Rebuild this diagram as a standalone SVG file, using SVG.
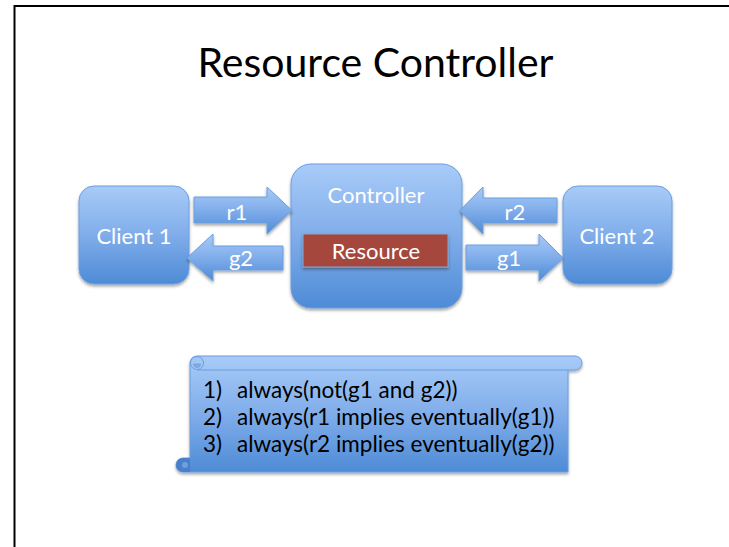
<svg xmlns="http://www.w3.org/2000/svg" width="729" height="547" viewBox="0 0 729 547">
  <style>
    .node { fill: url(#blue); stroke: #6b9ee0; stroke-width: 1; filter: url(#shadow); }
    .arrow { fill: url(#blue); stroke: #6b9ee0; stroke-width: 1; filter: url(#shadow); }
    .wt { font-family: Lato, "Liberation Sans", sans-serif; fill: #ffffff; text-anchor: middle; font-size: 22px; }
    .title { font-family: Lato, "Liberation Sans", sans-serif; fill: #000000; text-anchor: middle; font-size: 41px; }
    .rule { font-family: Lato, "Liberation Sans", sans-serif; fill: #000000; font-size: 22.5px; }
  </style>
  <defs>
    <linearGradient id="blue" x1="0" y1="0" x2="0" y2="1">
      <stop offset="0" stop-color="#a8cbf8"/>
      <stop offset="0.5" stop-color="#80adea"/>
      <stop offset="1" stop-color="#4e8bd6"/>
    </linearGradient>
    <filter id="shadow" x="-10%" y="-10%" width="120%" height="130%">
      <feDropShadow dx="0" dy="2" stdDeviation="1.6" flood-color="#000000" flood-opacity="0.35"/>
    </filter>
  </defs>

  <!-- slide frame (top and left edges) -->
  <path d="M14.5,547 L14.5,6 L729,6" fill="none" stroke="#000000" stroke-width="2"/>

  <text class="title" x="375.5" y="77">Resource Controller</text>

  <g id="client1">
    <rect class="node" x="79" y="186" width="110" height="98" rx="15"/>
    <text class="wt" x="134" y="244">Client 1</text>
  </g>

  <g id="controller">
    <rect class="node" x="291" y="164" width="171" height="144" rx="20"/>
    <text class="wt" x="376" y="203">Controller</text>
    <rect x="303" y="234" width="145" height="33" fill="#a6463e" stroke="#8aa6cc" stroke-width="1" filter="url(#shadow)"/>
    <text class="wt" x="376" y="259">Resource</text>
  </g>

  <g id="client2">
    <rect class="node" x="563" y="186" width="109" height="98" rx="15"/>
    <text class="wt" x="617" y="244">Client 2</text>
  </g>

  <g id="connectors">
    <g id="r1">
      <path class="arrow" d="M194,197 L267,197 L267,187 L292,210.5 L267,234 L267,223 L194,223 Z"/>
      <text class="wt" x="237" y="220">r1</text>
    </g>
    <g id="g2">
      <path class="arrow" d="M283,246 L213,246 L213,234 L187,258 L213,281 L213,270 L283,270 Z"/>
      <text class="wt" x="241" y="266">g2</text>
    </g>
    <g id="r2">
      <path class="arrow" d="M557,198 L483,198 L483,187 L460,210.5 L483,234 L483,223 L557,223 Z"/>
      <text class="wt" x="515" y="220">r2</text>
    </g>
    <g id="g1">
      <path class="arrow" d="M466,245 L539,245 L539,234 L563,258 L539,281 L539,270 L466,270 Z"/>
      <text class="wt" x="509" y="266">g1</text>
    </g>
  </g>

  <g id="spec">
    <!-- scroll body with top bar and bottom-left roll -->
    <path class="node" d="M190,363 A7,7 0 0 1 197,356 L575,356 A7,7 0 0 1 575,370 L568,370 L568,472 L183,472 A7,7 0 0 1 183,458 L190,458 Z"/>
    <path d="M197,370 L568,370" fill="none" stroke="#6b9ee0" stroke-width="1"/>
    <!-- top-left roll -->
    <circle cx="197" cy="363" r="6.5" fill="#a3c6f5" stroke="#6b9ee0" stroke-width="1"/>
    <path d="M193.5,364 A3.5,3.5 0 0 0 200.5,364 Z" fill="#86acdf" stroke="#6b9ee0" stroke-width="0.8"/>
    <!-- bottom-left roll -->
    <path d="M190,458 L183,458 A7,7 0 0 0 183,472 L190,472 Z" fill="#4a80c9"/>
    <circle cx="185" cy="465" r="3" fill="#6f9edd"/>
    <text class="rule" x="203" y="398">1)</text>
    <text class="rule" x="237" y="398">always(not(g1 and g2))</text>
    <text class="rule" x="203" y="425">2)</text>
    <text class="rule" x="237" y="425">always(r1 implies eventually(g1))</text>
    <text class="rule" x="203" y="452">3)</text>
    <text class="rule" x="237" y="452">always(r2 implies eventually(g2))</text>
  </g>
</svg>
